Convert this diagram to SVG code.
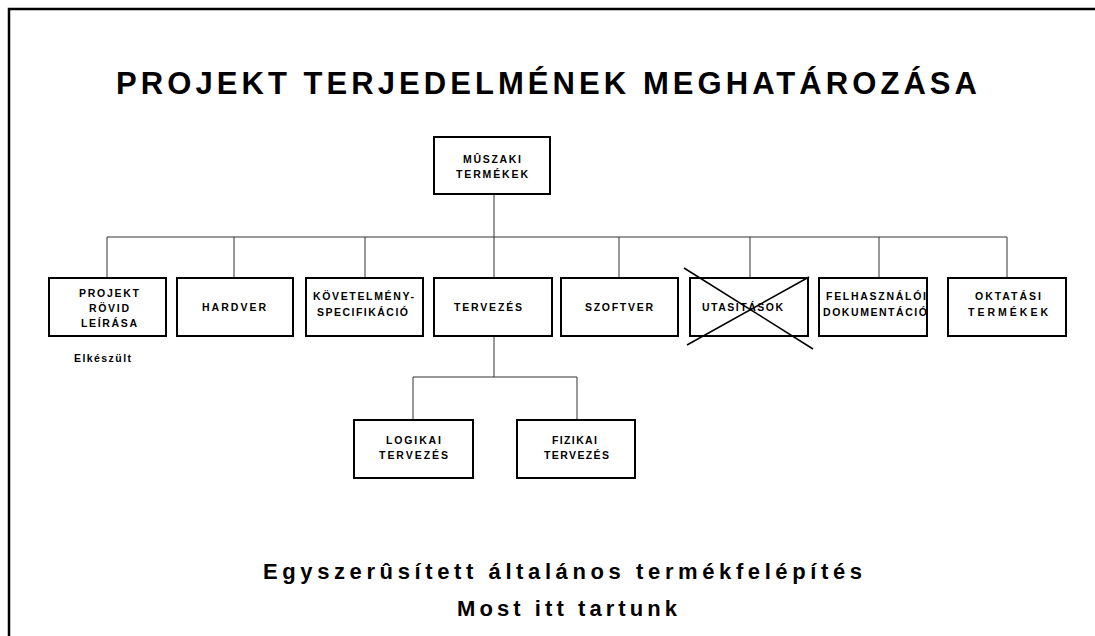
<svg xmlns="http://www.w3.org/2000/svg" width="1095" height="636" viewBox="0 0 1095 636">
  <style>
    .frame { fill: none; stroke: #000; stroke-width: 2.5; }
    .box { fill: #fff; stroke: #000; stroke-width: 2; }
    .wire { fill: none; stroke: #333; stroke-width: 1; }
    .cross { fill: none; stroke: #000; stroke-width: 1.5; }
    text { font-family: "Liberation Sans", Arial, sans-serif; font-weight: bold; fill: #000; }
    .lbl { font-size: 10.5px; }
    .title { font-size: 31px; }
    .sub { font-size: 22px; }
  </style>
  <rect width="1095" height="636" fill="#fff"/>
  <!-- page frame, open at right and bottom -->
  <rect class="frame" x="9" y="9" width="1200" height="700"/>

  <text class="title" x="116" y="94" textLength="861" lengthAdjust="spacing">PROJEKT TERJEDELMÉNEK MEGHATÁROZÁSA</text>

  <g id="connectors">
    <line class="wire" x1="494" y1="194" x2="494" y2="237"/>
    <line class="wire" x1="107" y1="237" x2="1007" y2="237"/>
    <line class="wire" x1="107" y1="237" x2="107" y2="278"/>
    <line class="wire" x1="234" y1="237" x2="234" y2="278"/>
    <line class="wire" x1="365" y1="237" x2="365" y2="278"/>
    <line class="wire" x1="494" y1="237" x2="494" y2="278"/>
    <line class="wire" x1="619" y1="237" x2="619" y2="278"/>
    <line class="wire" x1="750" y1="237" x2="750" y2="278"/>
    <line class="wire" x1="879" y1="237" x2="879" y2="278"/>
    <line class="wire" x1="1007" y1="237" x2="1007" y2="278"/>
    <line class="wire" x1="494" y1="336" x2="494" y2="377"/>
    <line class="wire" x1="413" y1="377" x2="577" y2="377"/>
    <line class="wire" x1="413" y1="377" x2="413" y2="420"/>
    <line class="wire" x1="577" y1="377" x2="577" y2="420"/>
  </g>

  <g id="muszaki-termekek">
    <rect class="box" x="434" y="137" width="116" height="57"/>
    <text class="lbl" x="463" y="163" textLength="58" lengthAdjust="spacing">MÛSZAKI</text>
    <text class="lbl" x="456" y="178" textLength="72" lengthAdjust="spacing">TERMÉKEK</text>
  </g>

  <g id="projekt-rovid-leirasa">
    <rect class="box" x="49" y="278" width="117" height="58"/>
    <text class="lbl" x="79" y="297" textLength="60" lengthAdjust="spacing">PROJEKT</text>
    <text class="lbl" x="89" y="312" textLength="40" lengthAdjust="spacing">RÖVID</text>
    <text class="lbl" x="81" y="327" textLength="56" lengthAdjust="spacing">LEÍRÁSA</text>
  </g>
  <text id="elkeszult" class="lbl" x="74" y="362" textLength="57" lengthAdjust="spacing">Elkészült</text>

  <g id="hardver">
    <rect class="box" x="177" y="278" width="116" height="58"/>
    <text class="lbl" x="202" y="311" textLength="64" lengthAdjust="spacing">HARDVER</text>
  </g>

  <g id="kovetelmeny-specifikacio">
    <rect class="box" x="306" y="278" width="117" height="58"/>
    <text class="lbl" x="313" y="300" textLength="101" lengthAdjust="spacing">KÖVETELMÉNY-</text>
    <text class="lbl" x="317" y="316" textLength="91" lengthAdjust="spacing">SPECIFIKÁCIÓ</text>
  </g>

  <g id="tervezes">
    <rect class="box" x="434" y="278" width="118" height="58"/>
    <text class="lbl" x="454" y="311" textLength="68" lengthAdjust="spacing">TERVEZÉS</text>
  </g>

  <g id="szoftver">
    <rect class="box" x="561" y="278" width="117" height="58"/>
    <text class="lbl" x="585" y="311" textLength="68" lengthAdjust="spacing">SZOFTVER</text>
  </g>

  <g id="utasitasok">
    <rect class="box" x="690" y="278" width="118" height="58"/>
    <text class="lbl" x="702" y="311" textLength="81" lengthAdjust="spacing">UTASITÁSOK</text>
    <line class="cross" x1="684" y1="268" x2="813" y2="349"/>
    <line class="cross" x1="809" y1="277" x2="687" y2="345"/>
  </g>

  <g id="felhasznaloi-dokumentacio">
    <rect class="box" x="819" y="278" width="108" height="58"/>
    <text class="lbl" x="826" y="300" textLength="100" lengthAdjust="spacing">FELHASZNÁLÓI</text>
    <text class="lbl" x="823" y="316" textLength="104" lengthAdjust="spacing">DOKUMENTÁCIÓ</text>
  </g>

  <g id="oktatasi-termekek">
    <rect class="box" x="948" y="278" width="118" height="58"/>
    <text class="lbl" x="975" y="300" textLength="66" lengthAdjust="spacing">OKTATÁSI</text>
    <text class="lbl" x="968" y="316" textLength="80" lengthAdjust="spacing">TERMÉKEK</text>
  </g>

  <g id="logikai-tervezes">
    <rect class="box" x="354" y="420" width="119" height="58"/>
    <text class="lbl" x="386" y="444" textLength="55" lengthAdjust="spacing">LOGIKAI</text>
    <text class="lbl" x="379" y="459" textLength="69" lengthAdjust="spacing">TERVEZÉS</text>
  </g>

  <g id="fizikai-tervezes">
    <rect class="box" x="517" y="420" width="118" height="58"/>
    <text class="lbl" x="552" y="444" textLength="45" lengthAdjust="spacing">FIZIKAI</text>
    <text class="lbl" x="544" y="459" textLength="65" lengthAdjust="spacing">TERVEZÉS</text>
  </g>

  <text class="sub" x="263" y="579" textLength="599" lengthAdjust="spacing">Egyszerûsített általános termékfelépítés</text>
  <text class="sub" x="457" y="616" textLength="220" lengthAdjust="spacing">Most itt tartunk</text>
</svg>
